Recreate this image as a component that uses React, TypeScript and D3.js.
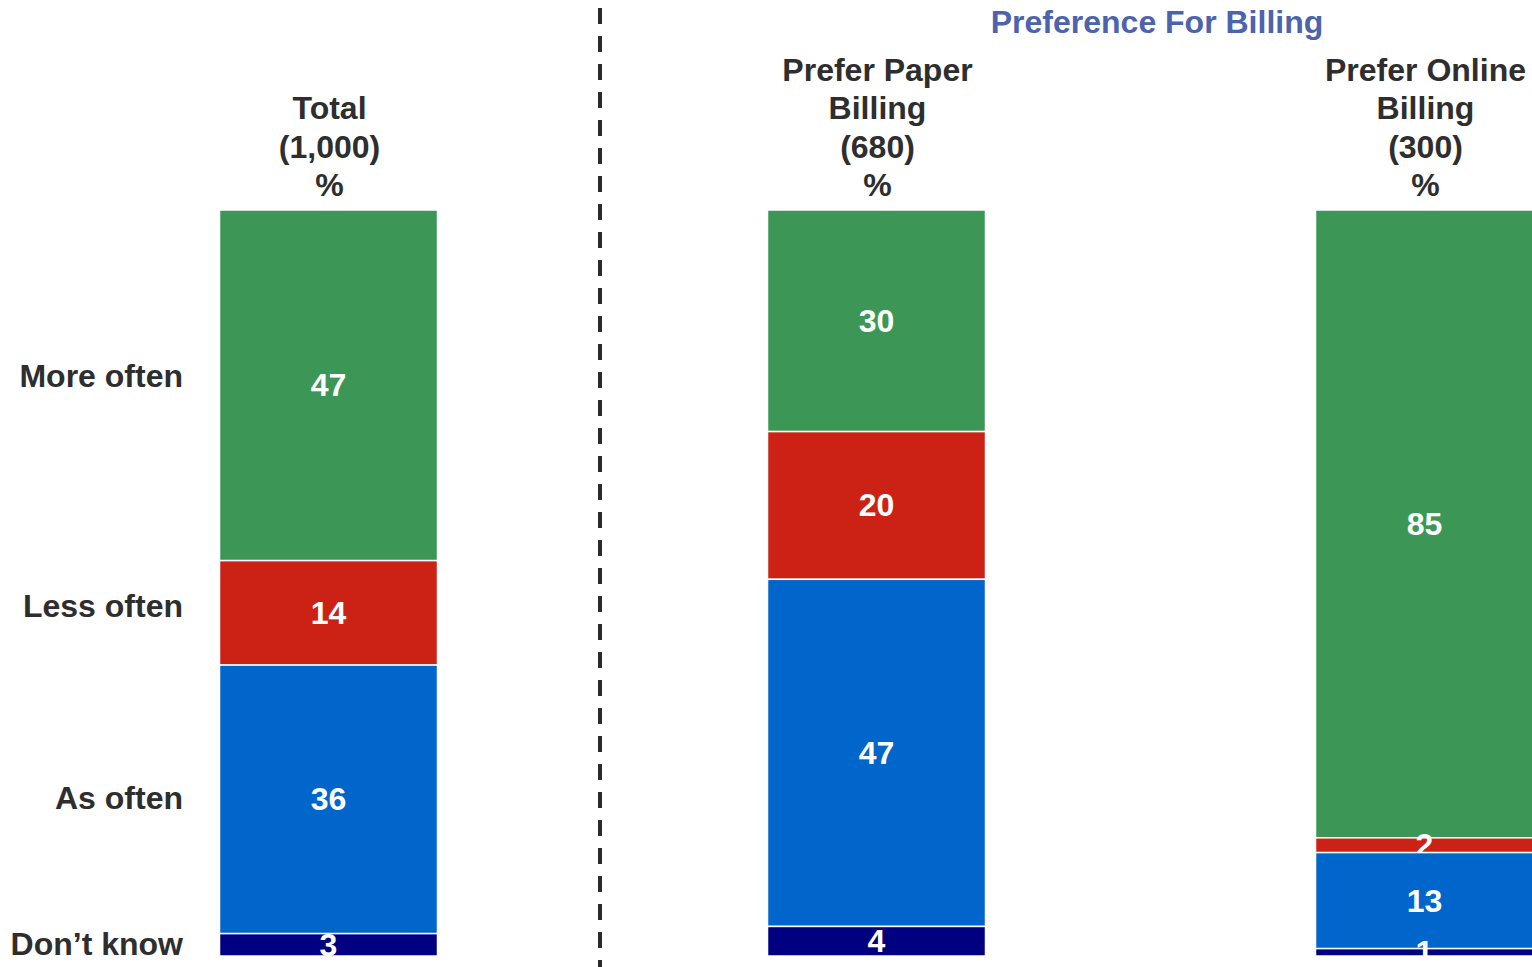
import * as d3 from "d3";

// stacked shares per group (top to bottom)
const groups = ["Total", "Prefer Paper Billing", "Prefer Online Billing"];
const headerLines = [
	["Total", "(1,000)", "%"],
	["Prefer Paper", "Billing", "(680)", "%"],
	["Prefer Online", "Billing", "(300)", "%"],
];
const categories = ["More often", "Less often", "As often", "Don\u2019t know"];
const moreOften = [47, 30, 85];
const lessOften = [14, 20, 2];
const asOften = [36, 47, 13];
const dontKnow = [3, 4, 1];
const rowLabelY = [376, 606, 798, 944];

const colors = ["#3C9757", "#CC2216", "#0066CC", "#000080"];
const WIDTH = 1532;
const HEIGHT = 967;
const BAR_TOP = 210;
const BAR_BOTTOM = 956;
const BAR_W = 218;
const FONT = "'Liberation Sans', Arial, sans-serif";
const FS = 32;
const TEXT = "#2E2E2E";

export default function App() {
	const series = [moreOften, lessOften, asOften, dontKnow];
	const x = d3.scalePoint<string>().domain(groups).range([328.5, 1424.5]);

	const bars = groups.map((g, gi) => {
		const vals = series.map((s) => s[gi]);
		const total = d3.sum(vals);
		// each column fills the full height (shares can sum to 101)
		const y = d3.scaleLinear().domain([0, total]).range([BAR_TOP, BAR_BOTTOM]);
		const cx = x(g)!;
		let acc = 0;
		return (
			<g key={g}>
				{vals.map((v, i) => {
					const y0 = y(acc);
					acc += v;
					const y1 = y(acc);
					return (
						<g key={i}>
							<rect
								x={cx - BAR_W / 2}
								y={y0}
								width={BAR_W}
								height={y1 - y0}
								fill={colors[i]}
								stroke="#fff"
								strokeWidth={1.5}
							/>
							<text
								x={cx}
								y={(y0 + y1) / 2}
								textAnchor="middle"
								dominantBaseline="central"
								fill="#fff"
								fontSize={FS}
								fontWeight="bold"
							>
								{v}
							</text>
						</g>
					);
				})}
				{headerLines[gi].map((t, li, arr) => (
					<text
						key={li}
						x={cx + 1}
						y={185 - (arr.length - 1 - li) * 38.5}
						textAnchor="middle"
						dominantBaseline="central"
						fill={TEXT}
						fontSize={FS}
						fontWeight="bold"
					>
						{t}
					</text>
				))}
			</g>
		);
	});

	return (
		<svg
			width={WIDTH}
			height={HEIGHT}
			style={{ position: "absolute", left: 0, top: 0 }}
			fontFamily={FONT}
		>
			<rect width={WIDTH} height={HEIGHT} fill="#fff" />
			{bars}
			{categories.map((c, i) => (
				<text
					key={c}
					x={183}
					y={rowLabelY[i]}
					textAnchor="end"
					dominantBaseline="central"
					fill={TEXT}
					fontSize={FS}
					fontWeight="bold"
				>
					{c}
				</text>
			))}
			<line
				x1={600}
				x2={600}
				y1={8}
				y2={HEIGHT}
				stroke="#2B2B2B"
				strokeWidth={4}
				strokeDasharray="16 12"
			/>
			<text
				x={1157}
				y={22}
				textAnchor="middle"
				dominantBaseline="central"
				fill="#4C63AE"
				fontSize={FS}
				fontWeight="bold"
			>
				Preference For Billing
			</text>
		</svg>
	);
}
